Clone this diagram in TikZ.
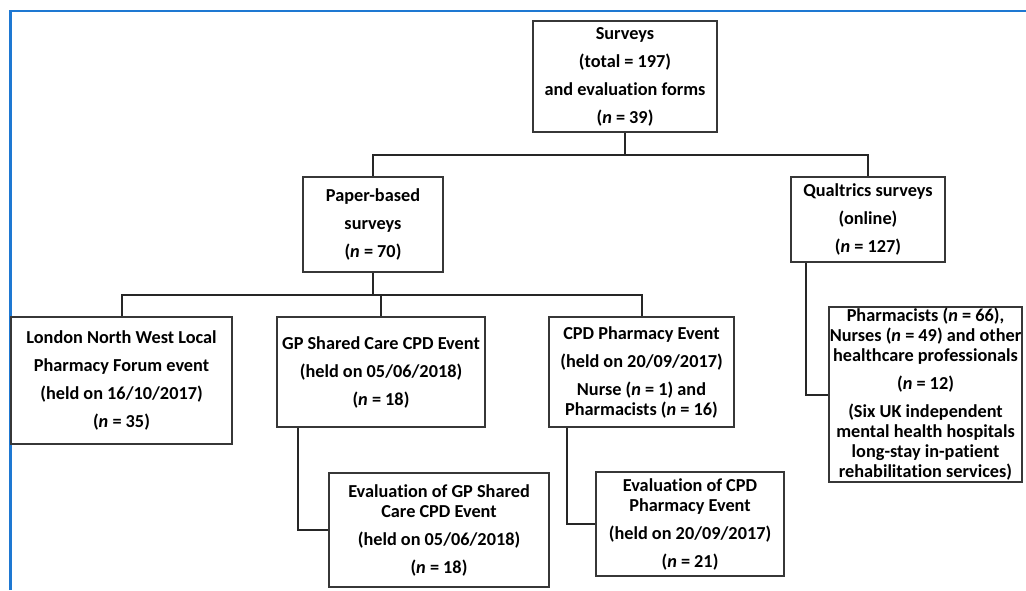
\documentclass[tikz,border=0pt]{standalone}
\usepackage{fontspec}
\setmainfont{Carlito}[Ligatures={NoCommon}]
\definecolor{frameblue}{RGB}{30,120,210}
\definecolor{boxline}{RGB}{55,55,55}
\begin{document}
\begin{tikzpicture}[x=0.75pt,y=-0.75pt,
  fbox/.style={draw=boxline,line width=1.1pt,inner sep=0pt,align=center,
    font=\bfseries\fontsize{13.7}{15}\selectfont},
  conn/.style={draw=black!85,line width=1.5pt}]
\useasboundingbox (0,0) rectangle (1026,590);
\draw[frameblue,line width=2pt] (10.5,590) -- (10.5,11) -- (1026,11);

\node[fbox,minimum width=138pt,minimum height=83.25pt] (s) at (625,76.5)
  {Surveys\\[6pt](total = 197)\\[6pt]and evaluation forms\\[6pt](\textit{n} = 39)};
\node[fbox,minimum width=105pt,minimum height=71.25pt] (p) at (373,224.5)
  {Paper-based\\[6pt]surveys\\[6pt](\textit{n} = 70)};
\node[fbox,minimum width=115.5pt,minimum height=63.75pt] (q) at (868,219.5)
  {Qualtrics surveys\\[6pt](online)\\[6pt](\textit{n} = 127)};
\node[fbox,minimum width=165.75pt,minimum height=95.25pt] (l) at (121.5,380.5)
  {London North West Local\\[6pt]Pharmacy Forum event\\[6pt](held on 16/10/2017)\\[6pt](\textit{n} = 35)};
\node[fbox,minimum width=156pt,minimum height=82.5pt] (g) at (381,372)
  {GP Shared Care CPD Event\\[6pt](held on 05/06/2018)\\[6pt](\textit{n} = 18)};
\node[fbox,minimum width=138.75pt,minimum height=82.5pt] (c) at (641.5,372)
  {CPD Pharmacy Event\\[6pt](held on 20/09/2017)\\[6pt]Nurse (\textit{n} = 1) and\\Pharmacists (\textit{n} = 16)};
\node[fbox,minimum width=165pt,minimum height=85.5pt] (eg) at (439,530)
  {Evaluation of GP Shared\\Care CPD Event\\[6pt](held on 05/06/2018)\\[6pt](\textit{n} = 18)};
\node[fbox,minimum width=141pt,minimum height=78pt] (ec) at (690,524)
  {Evaluation of CPD\\Pharmacy Event\\[6pt](held on 20/09/2017)\\[6pt](\textit{n} = 21)};
\node[fbox,minimum width=144.75pt,minimum height=131.25pt] (ph) at (925.5,394.5)
  {Pharmacists (\textit{n} = 66),\\Nurses (\textit{n} = 49) and other\\healthcare professionals\\[6pt](\textit{n} = 12)\\[6pt](Six UK independent\\mental health hospitals\\long-stay in-patient\\rehabilitation services)};

\coordinate (j1) at (625,155);
\coordinate (j2) at (373,295);
\draw[conn] (s.south) -- (j1);
\draw[conn] (p.north) |- (j1) -| (q.north);
\draw[conn] (p.south) -- (j2);
\draw[conn] (l.north) |- (j2) -| (c.north);
\draw[conn] (g.north) -- (g.north |- j2);
\draw[conn] ([xshift=16.5pt]g.south west) |- (eg.west);
\draw[conn] ([xshift=14.25pt]c.south west) |- (ec.west);
\draw[conn] ([xshift=12pt]q.south west) |- (ph.west);
\end{tikzpicture}
\end{document}
